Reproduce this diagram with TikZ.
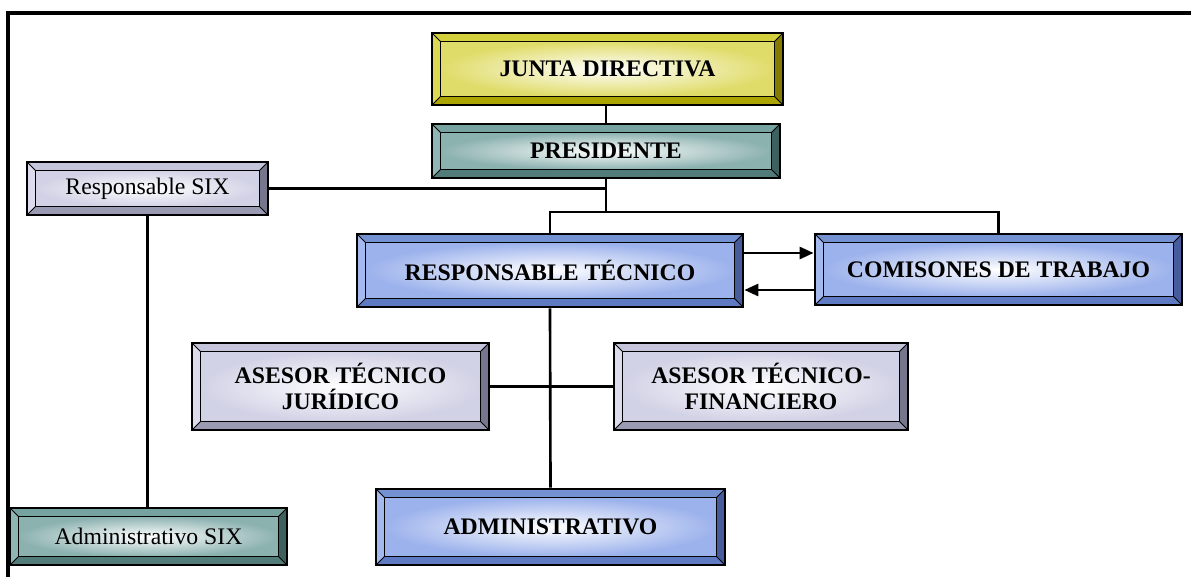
\documentclass[tikz,border=0pt]{standalone}
\usepackage{fontspec}
\setmainfont{Liberation Serif}
\usetikzlibrary{arrows.meta}

\definecolor{olivetop}{HTML}{D4CF3C}
\definecolor{oliveleft}{HTML}{DCD852}
\definecolor{olivebot}{HTML}{ACA400}
\definecolor{oliveright}{HTML}{847C00}
\definecolor{oliveface}{HTML}{E0DC6A}
\definecolor{tealtop}{HTML}{76A2A0}
\definecolor{tealleft}{HTML}{8EB6B4}
\definecolor{tealbot}{HTML}{527C7A}
\definecolor{tealright}{HTML}{3E605E}
\definecolor{tealface}{HTML}{8CB2B0}
\definecolor{lavtop}{HTML}{C4C4DA}
\definecolor{lavleft}{HTML}{DCDCEC}
\definecolor{lavbot}{HTML}{9A9AB2}
\definecolor{lavright}{HTML}{76768C}
\definecolor{lavface}{HTML}{D2D2E6}
\definecolor{bluetop}{HTML}{7492D2}
\definecolor{blueleft}{HTML}{A4BAEE}
\definecolor{bluebot}{HTML}{5E7AC2}
\definecolor{blueright}{HTML}{465C9C}
\definecolor{blueface}{HTML}{9CB2EC}

\newcommand{\bevw}{0.17cm}

\tikzset{
  bevel/.style n args={5}{draw=black, line width=1.6pt, inner sep=0pt, align=center,
    path picture={
      \coordinate (pa) at (path picture bounding box.south west);
      \coordinate (pb) at (path picture bounding box.north east);
      \coordinate (pc) at ([shift={(\bevw,\bevw)}]pa);
      \coordinate (pd) at ([shift={(-\bevw,-\bevw)}]pb);
      \fill[#2] (pa|-pb) -- (pb) -- (pd) -- (pc|-pd) -- cycle;
      \fill[#3] (pa) -- (pa|-pb) -- (pc|-pd) -- (pc) -- cycle;
      \fill[#4] (pa) -- (pb|-pa) -- (pd|-pc) -- (pc) -- cycle;
      \fill[#5] (pb|-pa) -- (pb) -- (pd) -- (pd|-pc) -- cycle;
      \shade[inner color=white, outer color=#1] (pc) rectangle (pd);
      \draw[line width=0.9pt] (pc) rectangle (pd);
      \draw[line width=0.5pt] (pa) -- (pc) (pb) -- (pd) (pa|-pb) -- (pc|-pd) (pb|-pa) -- (pd|-pc);
    }},
  yellowbox/.style={bevel={oliveface}{olivetop}{oliveleft}{olivebot}{oliveright}},
  tealbox/.style={bevel={tealface}{tealtop}{tealleft}{tealbot}{tealright}},
  lavbox/.style={bevel={lavface}{lavtop}{lavleft}{lavbot}{lavright}},
  bluebox/.style={bevel={blueface}{bluetop}{blueleft}{bluebot}{blueright}},
  lbl/.style={font=\fontsize{13.5}{15}\selectfont\bfseries},
  plain/.style={font=\fontsize{13.5}{15}\selectfont},
  link/.style={line width=1.5pt},
  arr/.style={line width=1.5pt, -{Triangle[length=0.28cm,width=0.24cm]}}
}

\begin{document}
\begin{tikzpicture}[x=0.02cm, y=-0.02cm]
\useasboundingbox (0,0) rectangle (1191,577);

% frame
\draw[line width=2pt] (8,577) -- (8,13) -- (1191,13);

% boxes
\node[yellowbox, lbl, minimum width=7.02cm, minimum height=1.44cm] (junta) at (607.5,69) {JUNTA DIRECTIVA};
\node[tealbox, lbl, minimum width=6.96cm, minimum height=1.08cm] (pres) at (606,151) {PRESIDENTE};
\node[lavbox, plain, minimum width=4.82cm, minimum height=1.06cm] (rsix) at (147.5,188.5) {Responsable SIX};
\node[bluebox, lbl, minimum width=7.72cm, minimum height=1.46cm] (rtec) at (550,270.5) {RESPONSABLE TÉCNICO};
\node[bluebox, lbl, minimum width=7.34cm, minimum height=1.42cm] (comis) at (998.5,269.5) {COMISONES DE TRABAJO};
\node[lavbox, lbl, minimum width=5.94cm, minimum height=1.74cm] (asjur) at (340.5,386.5) {ASESOR TÉCNICO\\JURÍDICO};
\node[lavbox, lbl, minimum width=5.88cm, minimum height=1.74cm] (asfin) at (761,386.5) {ASESOR TÉCNICO-\\FINANCIERO};
\node[bluebox, lbl, minimum width=6.98cm, minimum height=1.52cm] (admin) at (550.5,527) {ADMINISTRATIVO};
\node[tealbox, plain, minimum width=5.54cm, minimum height=1.14cm] (asix) at (148.5,536.5) {Administrativo SIX};

% connectors
\coordinate (bus) at (606,212);
\draw[link] (pres.north) -- (pres.north |- junta.south);
\draw[link] (pres.south) -- (pres.south |- bus);
\draw[link] (rsix.east) -- (rsix.east -| pres.south);
\draw[link] (rtec.north) |- (comis.north |- bus) -- (comis.north);
\draw[link] (rsix.south) -- (rsix.south |- asix.north);
\draw[link] (rtec.south) -- (admin.north);
\draw[link] (asjur.east) -- (asfin.west);

\coordinate (ra) at ([yshift=0.35cm]rtec.east);
\coordinate (rb) at ([yshift=-0.39cm]rtec.east);
\draw[arr] (ra) -- (ra -| comis.west);
\draw[arr] (rb -| comis.west) -- (rb);
\end{tikzpicture}
\end{document}
